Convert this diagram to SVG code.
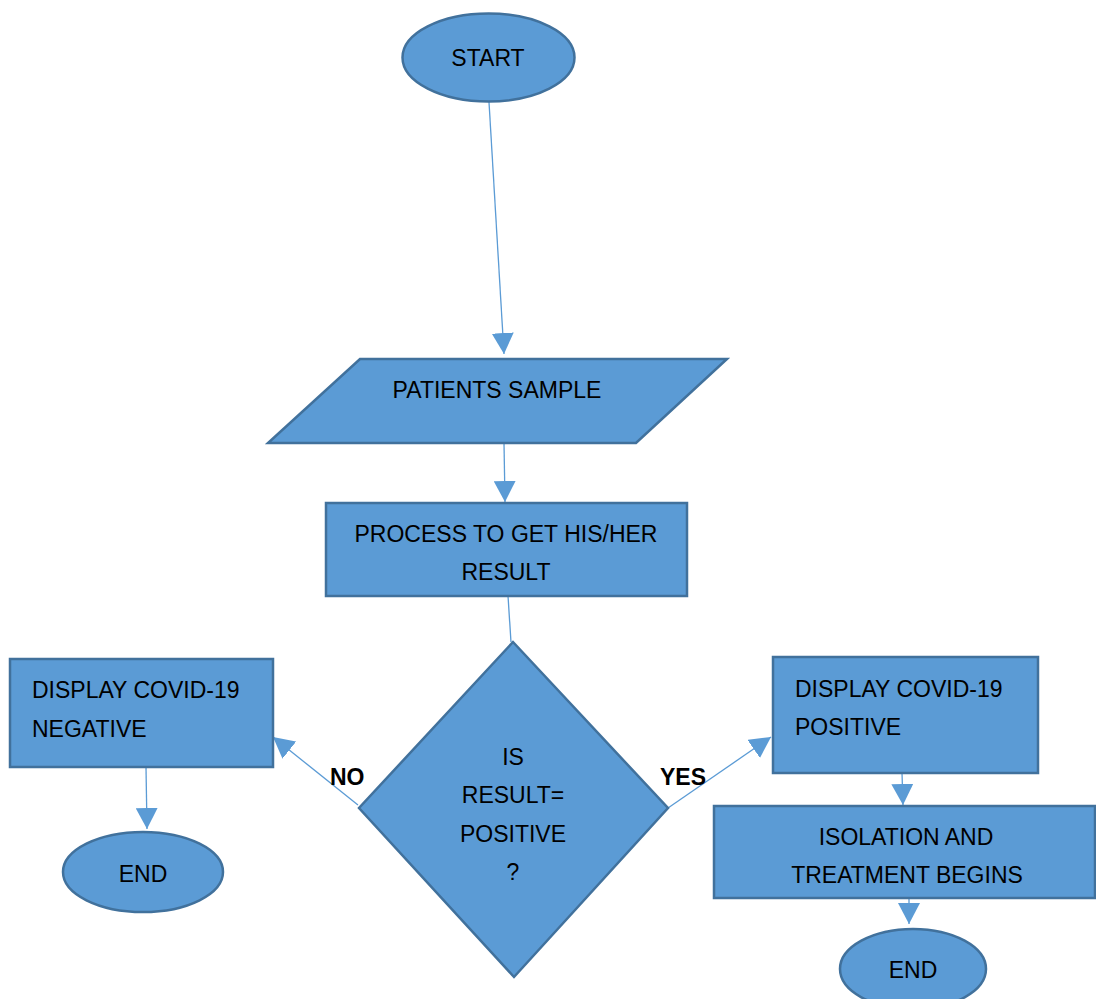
<svg xmlns="http://www.w3.org/2000/svg" width="1096" height="999" viewBox="0 0 1096 999">
<defs>
<style>
.shape{fill:#5B9BD5;stroke:#41719C;stroke-width:2.5}
.conn{stroke:#5B9BD5;stroke-width:1.3;fill:none}
.t{font-family:"Liberation Sans",Arial,sans-serif;font-size:23px;fill:#000}
.c{text-anchor:middle}
.b{font-weight:bold}
</style>
<marker id="arr" markerUnits="userSpaceOnUse" markerWidth="22" markerHeight="22" refX="21" refY="11" orient="auto" viewBox="0 0 22 22">
<path d="M0,0 L21,11 L0,22 z" fill="#5B9BD5"/>
</marker>
</defs>
<rect width="1096" height="999" fill="#fff"/>
<g id="connectors">
<line class="conn" x1="489" y1="102" x2="504" y2="354" marker-end="url(#arr)"/>
<line class="conn" x1="504" y1="443" x2="505" y2="502" marker-end="url(#arr)"/>
<line class="conn" x1="508" y1="596" x2="511" y2="642"/>
<line class="conn" x1="358" y1="805" x2="273" y2="737" marker-end="url(#arr)"/>
<line class="conn" x1="146" y1="767" x2="147" y2="829" marker-end="url(#arr)"/>
<line class="conn" x1="668" y1="808" x2="771" y2="737" marker-end="url(#arr)"/>
<line class="conn" x1="902" y1="773" x2="903" y2="805" marker-end="url(#arr)"/>
<line class="conn" x1="909" y1="898" x2="909" y2="924" marker-end="url(#arr)"/>
</g>
<g id="start">
<ellipse class="shape" cx="488.5" cy="57.5" rx="86" ry="44"/>
<text class="t c" x="488" y="66">START</text>
</g>
<g id="patients-sample">
<polygon class="shape" points="360,359 727,359 636,443 268,443"/>
<text class="t c" x="497" y="398">PATIENTS SAMPLE</text>
</g>
<g id="process">
<rect class="shape" x="326" y="503" width="361" height="93"/>
<text class="t c" x="506" y="542">PROCESS TO GET HIS/HER</text>
<text class="t c" x="506" y="580">RESULT</text>
</g>
<g id="decision">
<polygon class="shape" points="513,642 668,808 514,977 359,808"/>
<text class="t c" x="513" y="765">IS</text>
<text class="t c" x="513" y="803">RESULT=</text>
<text class="t c" x="513" y="842">POSITIVE</text>
<text class="t c" x="513" y="880">?</text>
</g>
<g id="negative">
<rect class="shape" x="10" y="659" width="263" height="108"/>
<text class="t" x="32" y="698">DISPLAY COVID-19</text>
<text class="t" x="32" y="737">NEGATIVE</text>
</g>
<g id="end-left">
<ellipse class="shape" cx="143" cy="872" rx="80" ry="40"/>
<text class="t c" x="143" y="882">END</text>
</g>
<g id="positive">
<rect class="shape" x="773" y="657" width="265" height="116"/>
<text class="t" x="795" y="697">DISPLAY COVID-19</text>
<text class="t" x="795" y="735">POSITIVE</text>
</g>
<g id="isolation">
<rect class="shape" x="714" y="806" width="381" height="92"/>
<text class="t c" x="906" y="845">ISOLATION AND</text>
<text class="t c" x="907" y="883">TREATMENT BEGINS</text>
</g>
<g id="end-right">
<ellipse class="shape" cx="913" cy="969" rx="73" ry="40"/>
<text class="t c" x="913" y="978">END</text>
</g>
<g id="labels">
<text class="t b" x="330" y="785">NO</text>
<text class="t b" x="660" y="785">YES</text>
</g>
</svg>
